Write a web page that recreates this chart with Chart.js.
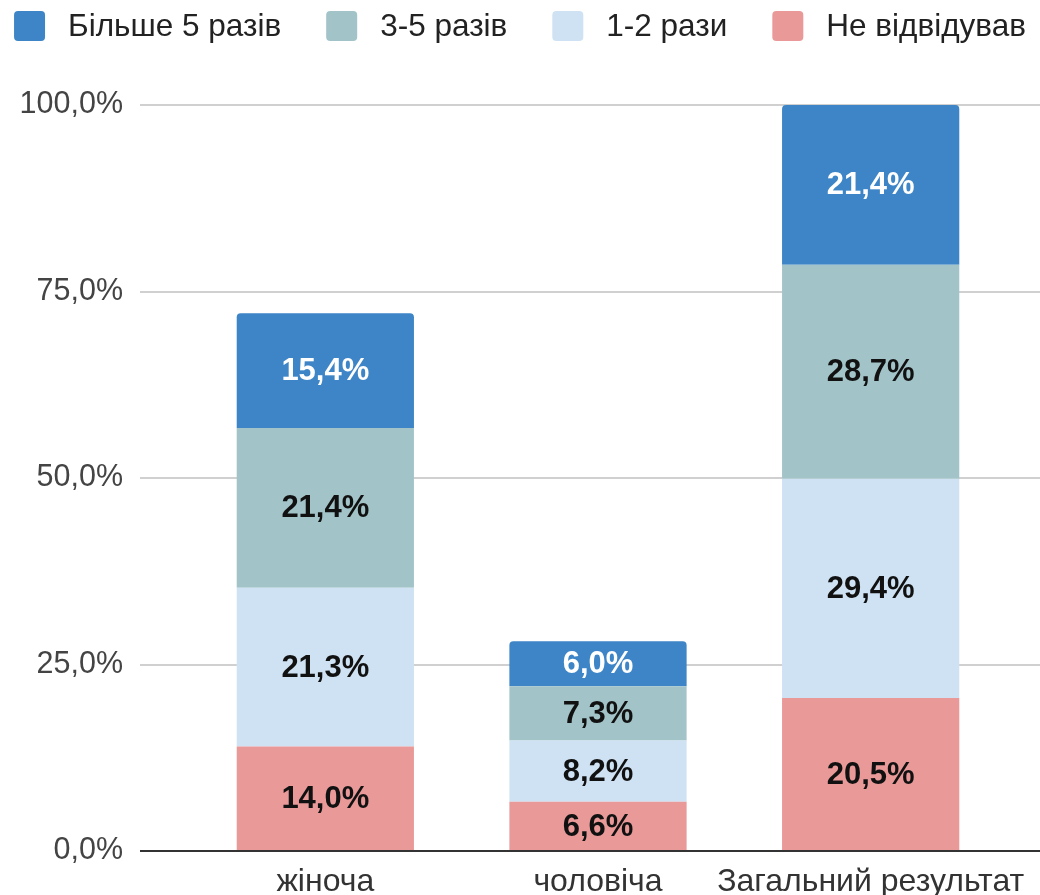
<!DOCTYPE html>
<html><head><meta charset="utf-8">
<script src="https://cdn.jsdelivr.net/npm/chart.js@4"></script>
<style>html,body{margin:0;padding:0;background:#fff;overflow:hidden}#c{display:block}</style>
</head><body><canvas id="c" width="1040" height="895" style="width:1040px;height:895px"></canvas>
<script>
const categories = ['жіноча', 'чоловіча', 'Загальний результат'];
const seriesNames = ['Не відвідував', '1-2 рази', '3-5 разів', 'Більше 5 разів'];
const notVisited = [14.0, 6.6, 20.5];
const times12 = [21.3, 8.2, 29.4];
const times35 = [21.4, 7.3, 28.7];
const more5 = [15.4, 6.0, 21.4];
const yTicks = [0, 25, 50, 75, 100];
const seriesColors = ['#ea9999', '#cfe2f3', '#a2c4c9', '#3d85c6'];
const labelColors = ['#111', '#111', '#111', '#fff'];

const FONT = '"Liberation Sans", Arial, sans-serif';
const fmt = v => v.toFixed(1).replace('.', ',') + '%';

const seriesValues = [notVisited, times12, times35, more5];
const datasets = seriesValues.map((vals, i) => ({
  label: seriesNames[i],
  data: vals,
  backgroundColor: seriesColors[i],
  borderWidth: 0,
  borderRadius: i === seriesValues.length - 1 ? {topLeft: 4, topRight: 4, bottomLeft: 0, bottomRight: 0} : 0,
  borderSkipped: i === seriesValues.length - 1 ? 'bottom' : 'start',
  categoryPercentage: 1,
  barPercentage: 0.65
}));

const gridPlugin = {
  id: 'gridPlugin',
  beforeDatasetsDraw(chart) {
    const ctx = chart.ctx, y = chart.scales.y, a = chart.chartArea;
    ctx.save();
    ctx.strokeStyle = '#d0d0d0';
    ctx.lineWidth = 2;
    yTicks.forEach(v => {
      if (v === 0) return;
      const py = Math.round(y.getPixelForValue(v));
      ctx.beginPath(); ctx.moveTo(a.left - 49, py); ctx.lineTo(chart.width, py); ctx.stroke();
    });
    ctx.restore();
  },
  afterDatasetsDraw(chart) {
    const ctx = chart.ctx, y = chart.scales.y, a = chart.chartArea;
    ctx.save();
    ctx.strokeStyle = '#333';
    ctx.lineWidth = 2;
    const py = Math.round(y.getPixelForValue(0));
    ctx.beginPath(); ctx.moveTo(a.left - 49, py); ctx.lineTo(chart.width, py); ctx.stroke();
    // value labels
    ctx.font = 'bold 31px ' + FONT;
    ctx.textAlign = 'center';
    ctx.textBaseline = 'middle';
    chart.data.datasets.forEach((ds, di) => {
      const meta = chart.getDatasetMeta(di);
      meta.data.forEach((bar, j) => {
        const cx = bar.x, cy = (bar.y + bar.base) / 2;
        ctx.fillStyle = labelColors[di];
        ctx.fillText(fmt(ds.data[j]), cx, cy + 1);
      });
    });
    ctx.restore();
  },
  afterDraw(chart) {
    // legend, in reverse series order
    const ctx = chart.ctx;
    ctx.save();
    ctx.font = '31.5px ' + FONT;
    const order = seriesNames.map((_, i) => i).reverse();
    const box = 31, gapText = 23, gapItem = 45;
    const widths = order.map(i => ctx.measureText(seriesNames[i]).width);
    const total = widths.reduce((s, w) => s + box + gapText + w, 0) + gapItem * (order.length - 1);
    let x = (chart.width - total) / 2;
    const cy = 26;
    order.forEach((i, k) => {
      ctx.fillStyle = seriesColors[i];
      ctx.beginPath();
      ctx.roundRect(x, cy - 15, box, 30, 4);
      ctx.fill();
      ctx.fillStyle = '#222';
      ctx.textAlign = 'left';
      ctx.textBaseline = 'middle';
      ctx.fillText(seriesNames[i], x + box + gapText, cy + 1);
      x += box + gapText + widths[k] + gapItem;
    });
    ctx.restore();
  }
};

new Chart(document.getElementById('c'), {
  type: 'bar',
  data: { labels: categories, datasets },
  plugins: [gridPlugin],
  options: {
    responsive: false,
    animation: false,
    devicePixelRatio: 1,
    layout: { padding: { top: 105, right: 33, left: 0, bottom: 0 } },
    plugins: { legend: { display: false }, tooltip: { enabled: false } },
    scales: {
      x: {
        stacked: true,
        grid: { display: false, drawTicks: false },
        border: { display: false },
        ticks: { font: { family: FONT, size: 32 }, color: '#333', padding: 12, maxRotation: 0, autoSkip: false },
        afterFit: s => { s.height = 44; s.paddingLeft = 0; s.paddingRight = 0; }
      },
      y: {
        stacked: true,
        min: 0, max: 100,
        afterBuildTicks: s => { s.ticks = yTicks.map(v => ({ value: v })); },
        grid: { display: false, drawTicks: false },
        border: { display: false },
        ticks: { font: { family: FONT, size: 30.5 }, color: '#444', padding: 66, callback: v => fmt(v) },
        afterFit: s => { s.width = 189; s.paddingTop = 0; s.paddingBottom = 0; }
      }
    }
  }
});
</script>
</body></html>
